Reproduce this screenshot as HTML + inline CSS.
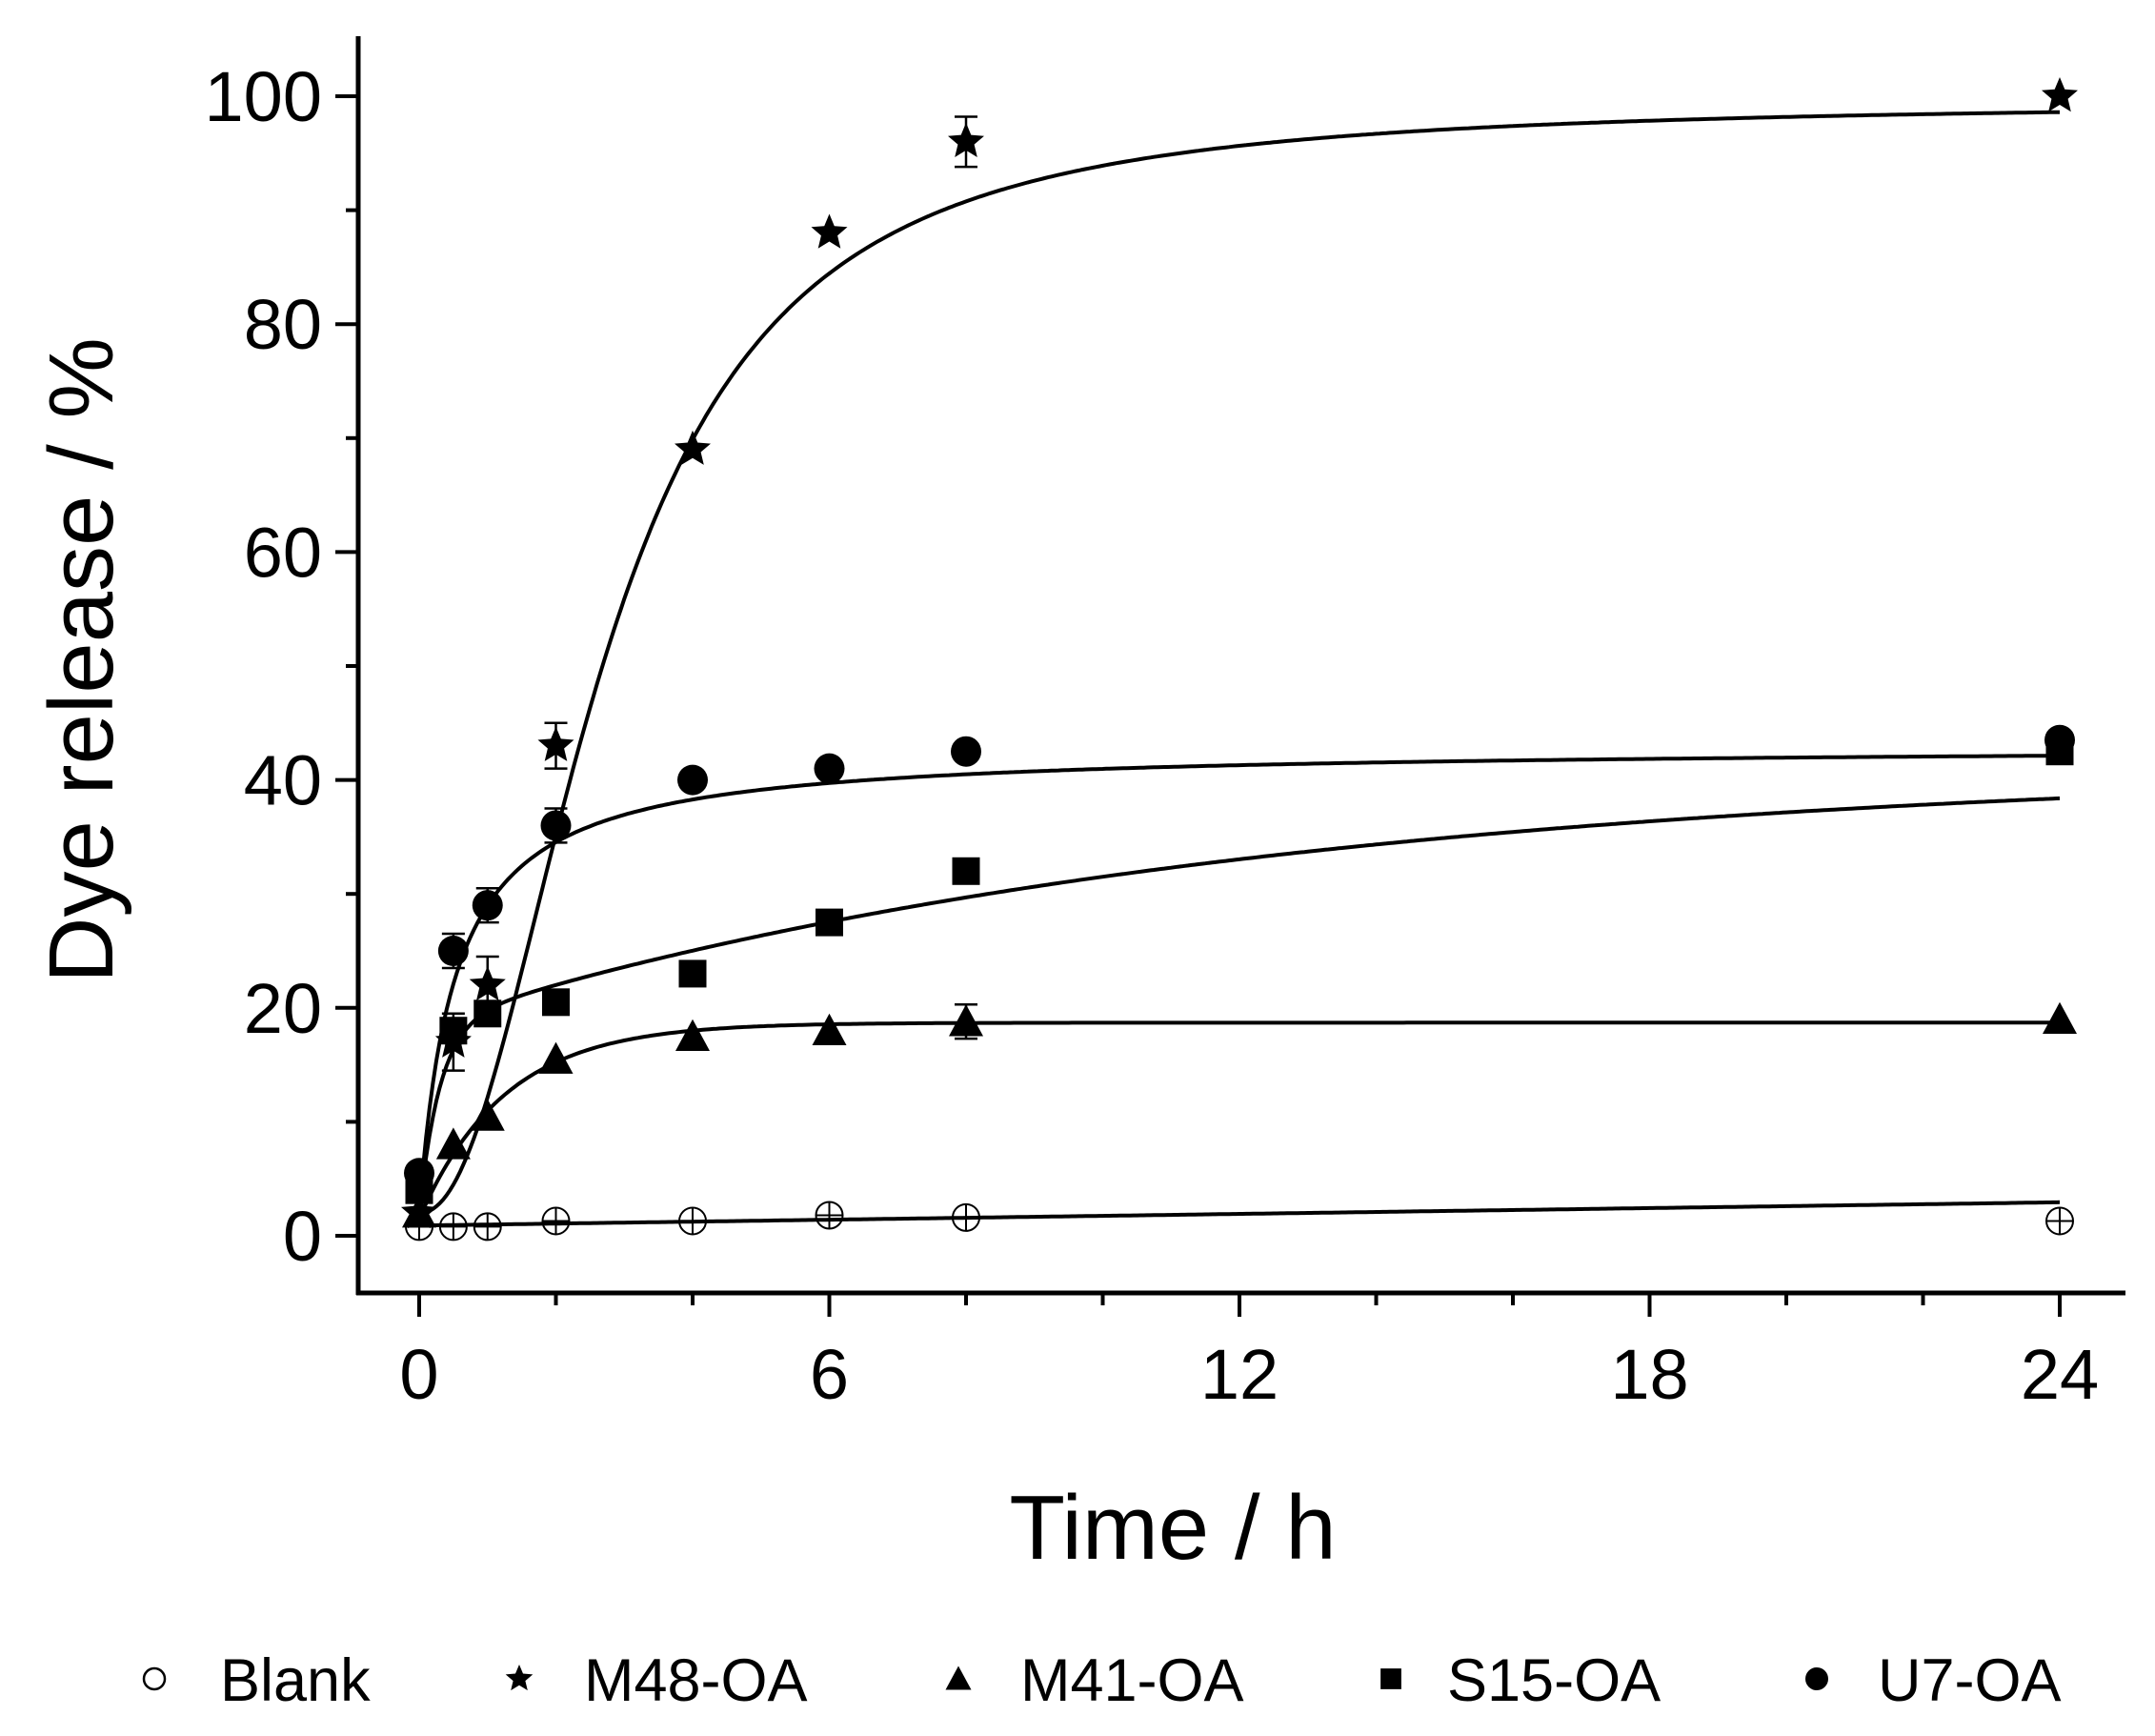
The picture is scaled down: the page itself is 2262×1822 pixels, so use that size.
<!DOCTYPE html>
<html><head><meta charset="utf-8"><style>
html,body{margin:0;padding:0;background:#fff;}
svg{display:block;font-family:"Liberation Sans",Arial,sans-serif;}
</style></head><body>
<svg id="s" width="2262" height="1822" viewBox="0 0 2262 1822" xmlns="http://www.w3.org/2000/svg"></svg>
<script>
const s=document.getElementById('s');
const X0=440,XS=71.75,Y0=1297,YS=11.96;
const px=t=>X0+t*XS, py=v=>Y0-v*YS;
let h='';
h+='<line x1="376" y1="38" x2="376" y2="1359" stroke="#000" stroke-width="5"/>';
h+='<line x1="374" y1="1357" x2="2231" y2="1357" stroke="#000" stroke-width="5"/>';
for(let v=0;v<=100;v+=10){const y=py(v);const L=v%20==0?24:13;h+=`<line x1="${376-L}" y1="${y}" x2="376" y2="${y}" stroke="#000" stroke-width="4"/>`;
 if(v%20==0)h+=`<text x="338" y="${y+26}" font-size="74" text-anchor="end">${v}</text>`;}
for(let t=0;t<=24;t+=2){const x=px(t);const L=t%6==0?25:13;h+=`<line x1="${x}" y1="1357" x2="${x}" y2="${1357+L}" stroke="#000" stroke-width="4"/>`;
 if(t%6==0)h+=`<text x="${x}" y="1468" font-size="74" text-anchor="middle">${t}</text>`;}
h+='<text x="1231" y="1636" font-size="96" text-anchor="middle">Time / h</text>';
h+='<text transform="translate(118,693) rotate(-90)" font-size="96" text-anchor="middle">Dye release / %</text>';
const hill=(t,k,n)=>Math.pow(t,n)/(Math.pow(k,n)+Math.pow(t,n));
const f={
 m48:t=>2+97.5*hill(t,2.72,2.15),
 u7:t=>2+41*t/(0.52+t),
 s15:t=>2+16.5*(1-Math.exp(-t/0.3))+23*(1-Math.exp(-t/12)),
 m41:t=>1.5+17.2*(1-Math.exp(-t/1.25)),
 bl:t=>0.9+0.085*t
};
for(const k in f){let d='';for(let t=0;t<=24.001;t+=0.05){d+=(d?'L':'M')+px(t).toFixed(1)+','+py(f[k](t)).toFixed(1);}
 h+=`<path d="${d}" fill="none" stroke="#000" stroke-width="4"/>`;}
const T=[0,0.5,1,2,4,6,8,24];
const D={
 m48:[2,17,22,43,69,88,96,100],
 u7:[5.5,25,29,36,40,41,42.5,43.5],
 s15:[4,18,19.5,20.5,23,27.5,32,42.5],
 m41:[2,8,10.5,15.5,17.5,18,18.8,19],
 bl:[0.8,0.8,0.8,1.3,1.3,1.8,1.6,1.3]};
function star(x,y,r){let p='';for(let i=0;i<10;i++){const a=-Math.PI/2+i*Math.PI/5;const rr=i%2?r*0.45:r;p+=(x+rr*Math.cos(a)).toFixed(1)+','+(y+rr*Math.sin(a)).toFixed(1)+' ';}return `<polygon points="${p}" fill="#000"/>`;}
function mk(k,x,y,sc){sc=sc||1;
 if(k=='m48')return star(x,y,20*sc);
 if(k=='u7')return `<circle cx="${x}" cy="${y}" r="${16*sc}" fill="#000"/>`;
 if(k=='s15'){const a=14.5*sc;return `<rect x="${x-a}" y="${y-a}" width="${2*a}" height="${2*a}" fill="#000"/>`;}
 if(k=='m41'){const a=18*sc;return `<polygon points="${x},${y-a} ${x+a},${y+a*0.85} ${x-a},${y+a*0.85}" fill="#000"/>`;}
 return `<circle cx="${x}" cy="${y}" r="${14*sc}" fill="none" stroke="#000" stroke-width="2"/><line x1="${x}" y1="${y-14*sc}" x2="${x}" y2="${y+14*sc}" stroke="#000" stroke-width="2"/><line x1="${x-14*sc}" y1="${y}" x2="${x+14*sc}" y2="${y}" stroke="#000" stroke-width="2"/>`;}
for(const k of ['bl','m41','s15','u7','m48']){T.forEach((t,i)=>{h+=mk(k,px(t),py(D[k][i]));});}
[['m48',0.5,2.5],['m48',1,2.5],['m48',2,2],['m48',8,2.2],['u7',0.5,1.5],['u7',1,1.5],['u7',2,1.5],['m41',8,1.5]].forEach(([k,t,e])=>{
 const i=T.indexOf(t),x=px(t),v=D[k][i];h+=`<line x1="${x}" y1="${py(v+e)}" x2="${x}" y2="${py(v-e)}" stroke="#000" stroke-width="2.5"/><line x1="${x-12}" y1="${py(v+e)}" x2="${x+12}" y2="${py(v+e)}" stroke="#000" stroke-width="2.5"/><line x1="${x-12}" y1="${py(v-e)}" x2="${x+12}" y2="${py(v-e)}" stroke="#000" stroke-width="2.5"/>`;});
const L=[['bl',162,'Blank',231],['m48',545,'M48-OA',613],['m41',1006,'M41-OA',1071],['s15',1460,'S15-OA',1519],['u7',1907,'U7-OA',1971]];
L.forEach(([k,x,n,tx])=>{
 if(k=='bl')h+=`<circle cx="${x}" cy="1762" r="11" fill="none" stroke="#000" stroke-width="2.5"/>`;
 else h+=mk(k,x,1762,0.75);
 h+=`<text x="${tx}" y="1785" font-size="63">${n}</text>`;});
s.innerHTML=h;
</script>
</body></html>
